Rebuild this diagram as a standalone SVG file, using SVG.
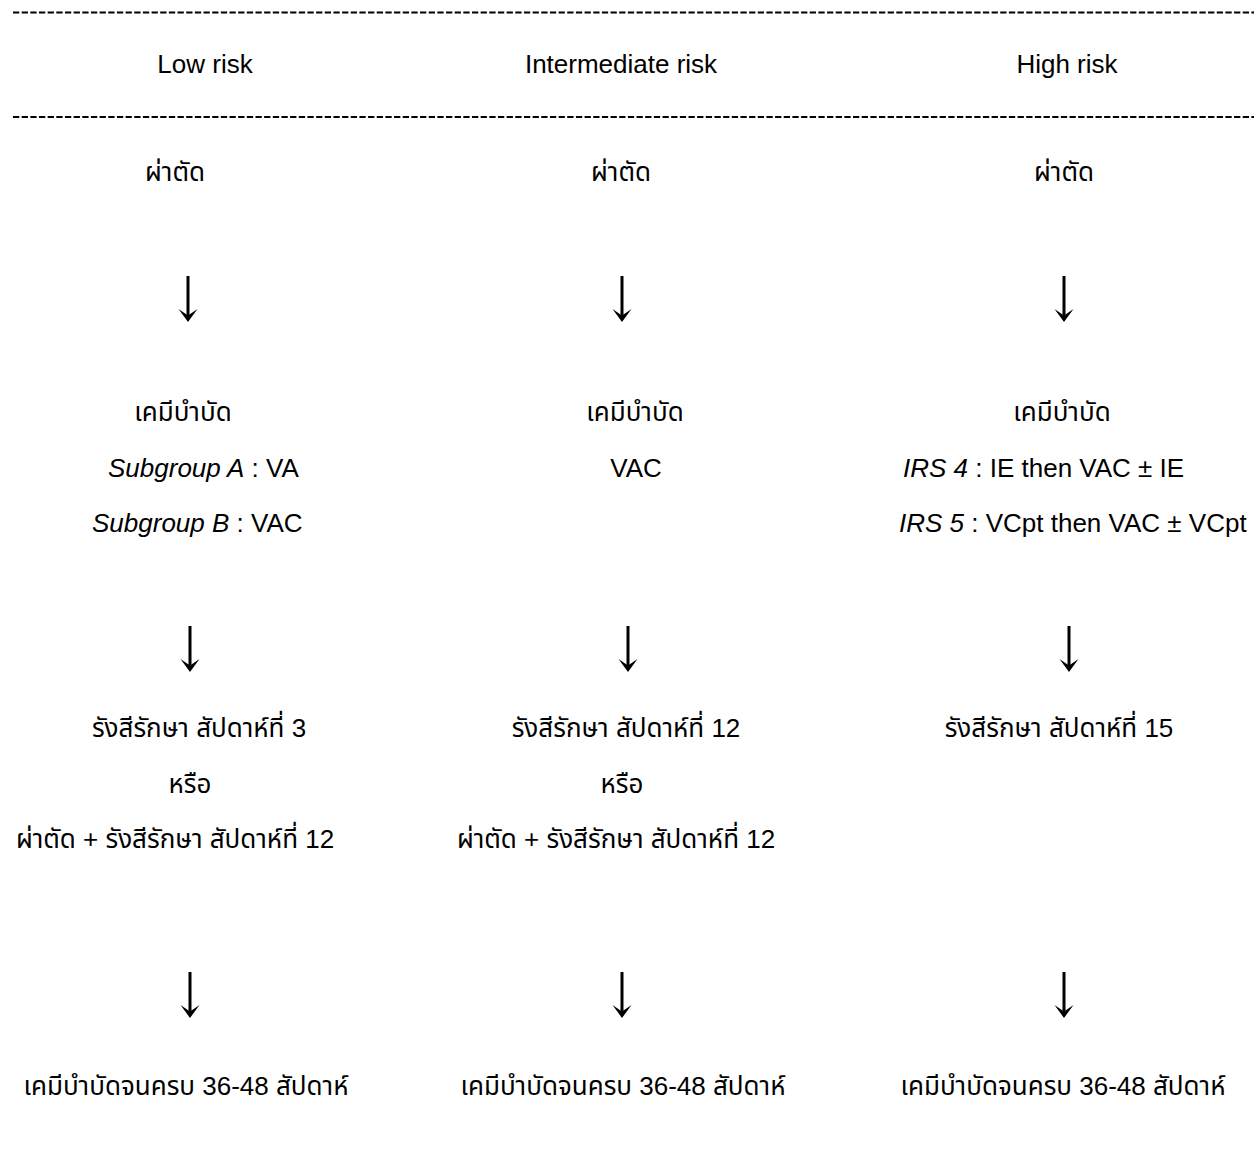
<svg xmlns="http://www.w3.org/2000/svg" xmlns:xlink="http://www.w3.org/1999/xlink" width="1254" height="1151" viewBox="0 0 1254 1151">
<style>
  text { font-family: "Liberation Sans", "Noto Sans Thai", "Noto Sans", sans-serif; font-size: 26px; fill: #000; }
  .c { text-anchor: middle; }
  .i { font-style: italic; }
  .rule { stroke: #000; stroke-width: 2; stroke-dasharray: 6.3 2.36; fill: none; }
</style>
<defs>
  <g id="arrow">
    <line x1="0" y1="0" x2="0" y2="40" stroke="#000" stroke-width="3"/>
    <path d="M-9.5,33 L0,46 L9.5,33 L0,39.5 Z" fill="#000"/>
  </g>
</defs>
<rect width="1254" height="1151" fill="#fff"/>

<g id="rules">
  <line class="rule" x1="13" y1="12.5" x2="1254" y2="12.5"/>
  <line class="rule" x1="13" y1="117" x2="1254" y2="117"/>
</g>

<g id="headers">
  <text class="c" x="205" y="73">Low risk</text>
  <text class="c" x="621" y="73">Intermediate risk</text>
  <text class="c" x="1067" y="73">High risk</text>
</g>

<g id="low-surgery"><text class="c" x="175" y="181">ผ่าตัด</text></g>
<g id="mid-surgery"><text class="c" x="621" y="181">ผ่าตัด</text></g>
<g id="high-surgery"><text class="c" x="1064" y="181">ผ่าตัด</text></g>

<g id="low-chemo">
  <text class="c" x="183" y="421">เคมีบำบัด</text>
  <text x="108" y="477"><tspan class="i">Subgroup A</tspan> : VA</text>
  <text x="92" y="532"><tspan class="i">Subgroup B</tspan> : VAC</text>
</g>
<g id="mid-chemo">
  <text class="c" x="635" y="421">เคมีบำบัด</text>
  <text class="c" x="636" y="477">VAC</text>
</g>
<g id="high-chemo">
  <text class="c" x="1062" y="421">เคมีบำบัด</text>
  <text x="903" y="477"><tspan class="i">IRS 4</tspan> : IE then VAC ± IE</text>
  <text x="899" y="532"><tspan class="i">IRS 5</tspan> : VCpt then VAC ± VCpt</text>
</g>

<g id="low-radiation">
  <text class="c" x="199" y="737">รังสีรักษา สัปดาห์ที่ 3</text>
  <text class="c" x="190" y="793">หรือ</text>
  <text class="c" x="175" y="848">ผ่าตัด + รังสีรักษา สัปดาห์ที่ 12</text>
</g>
<g id="mid-radiation">
  <text class="c" x="626" y="737">รังสีรักษา สัปดาห์ที่ 12</text>
  <text class="c" x="622" y="793">หรือ</text>
  <text class="c" x="616" y="848">ผ่าตัด + รังสีรักษา สัปดาห์ที่ 12</text>
</g>
<g id="high-radiation">
  <text class="c" x="1059" y="737">รังสีรักษา สัปดาห์ที่ 15</text>
</g>

<g id="low-final"><text class="c" x="186" y="1095">เคมีบำบัดจนครบ 36-48 สัปดาห์</text></g>
<g id="mid-final"><text class="c" x="623" y="1095">เคมีบำบัดจนครบ 36-48 สัปดาห์</text></g>
<g id="high-final"><text class="c" x="1063" y="1095">เคมีบำบัดจนครบ 36-48 สัปดาห์</text></g>

<g id="connectors">
  <use href="#arrow" xlink:href="#arrow" x="188" y="276"/>
  <use href="#arrow" xlink:href="#arrow" x="622" y="276"/>
  <use href="#arrow" xlink:href="#arrow" x="1064" y="276"/>
  <use href="#arrow" xlink:href="#arrow" x="190" y="626"/>
  <use href="#arrow" xlink:href="#arrow" x="628" y="626"/>
  <use href="#arrow" xlink:href="#arrow" x="1069" y="626"/>
  <use href="#arrow" xlink:href="#arrow" x="190" y="972"/>
  <use href="#arrow" xlink:href="#arrow" x="622" y="972"/>
  <use href="#arrow" xlink:href="#arrow" x="1064" y="972"/>
</g>
</svg>
